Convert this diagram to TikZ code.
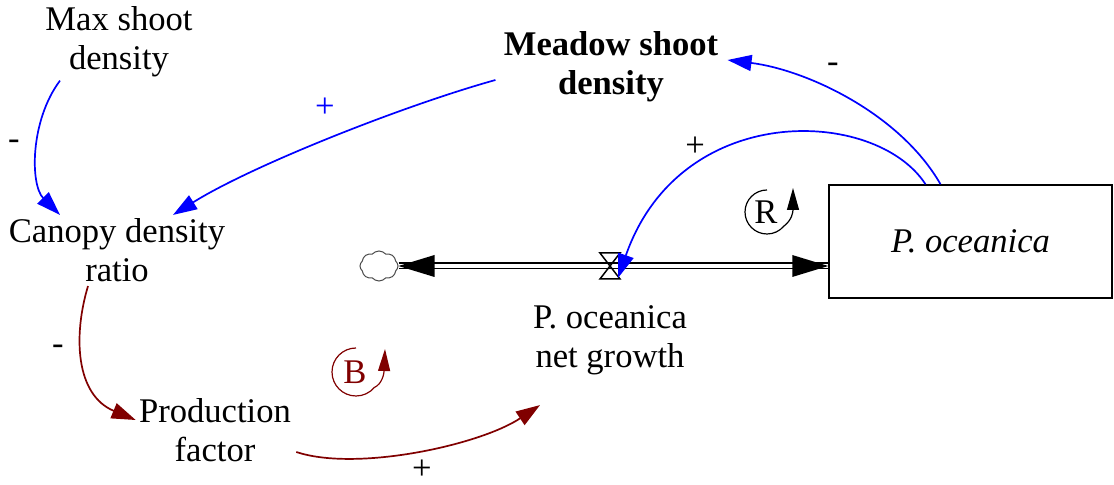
\documentclass[tikz,border=0pt]{standalone}
\usepackage{fontspec}
\setmainfont{Liberation Serif}
\usetikzlibrary{arrows.meta,shapes.symbols,calc}
\definecolor{balred}{RGB}{128,0,0}

\begin{document}
\begin{tikzpicture}[
    x=0.5pt, y=-0.5pt,
    every node/.style={font=\fontsize{17.3}{19.5}\selectfont},
    var/.style={align=center,inner sep=0pt},
    stockbox/.style={draw,line width=0.75pt,minimum width=141.5pt,minimum height=56.5pt,inner sep=0pt},
    link/.style={line width=0.85pt,-{Triangle[length=12pt,width=8pt]}},
    bluelink/.style={link,blue},
    redlink/.style={link,balred},
    pipe/.style={double,double distance=2pt,line width=0.75pt},
    pol/.style={inner sep=0pt},
    loopr/.style={line width=0.6pt,-{Triangle[length=11pt,width=6pt]}}
]
\useasboundingbox (0,0) rectangle (1114,485);

\node[var] (maxd) at (119,42) {Max shoot\\density};
\node[var,font=\fontsize{17.3}{19.5}\selectfont\bfseries] (meadow) at (611,67) {Meadow shoot\\density};
\node[var] (canopy) at (117,250) {Canopy density\\ratio};
\node[var] (prod) at (215,430) {Production\\factor};
\node[var] (netg) at (610,340) {P. oceanica\\net growth};
\node[stockbox] (stock) at (970.5,241.5) {\textit{P. oceanica}};
\node[cloud,draw=gray!60!black,line width=0.5pt,cloud puffs=8,cloud puff arc=100,minimum width=19pt,minimum height=15pt,inner sep=0pt] (sink) at (379,266) {};
\coordinate (valve) at (610,266);

% flow pipe
\draw[pipe] (sink.east) -- (valve -| stock.west);
\fill (sink.east) -- ++(36,-11) -- ++(0,22) -- cycle;
\fill (valve -| stock.west) -- ++(-36,-11) -- ++(0,22) -- cycle;
\draw[line width=0.75pt] ($(valve)+(-10,-13)$) -- ++(20,0) -- ++(-20,26) -- ++(20,0) -- cycle;

% links
\draw[bluelink] ($(maxd.south)+(-59,3)$) .. controls +(-30,40) and +(-30,-30) .. ($(canopy.north)+(-57,-3)$);
\draw[bluelink] ($(meadow.west)+(-8,13)$) .. controls +(-90,25) and +(80,-50) .. ($(canopy.north)+(56,-3)$);
\draw[bluelink] ($(stock.north)+(-30,0)$) .. controls +(-40,-70) and +(80,10) .. ($(meadow.east)+(9,-7)$);
\draw[bluelink] ($(stock.north)+(-45,0)$) .. controls +(-50,-77) and +(62,-178) .. ($(valve)+(8,12)$);
\draw[redlink] ($(canopy.south)+(-29,4)$) .. controls +(-15,50) and +(-60,-25) .. ($(prod.west)+(-3,-10)$);
\draw[redlink] ($(prod.east)+(5,22)$) .. controls +(60,20) and +(-60,40) .. ($(netg.south)+(-70,30)$);

% polarities
\node[pol] (p1) at (14,145) {-};
\node[pol,text=blue] (p2) at (325,108) {+};
\node[pol] (p3) at (833,68) {-};
\node[pol] (p4) at (695,147) {+};
\node[pol] (p5) at (58,350) {-};
\node[pol] (p6) at (422,470) {+};

% loop markers
\node (rl) at (766,212) {R};
\draw[loopr] (767,190) arc[start angle=-90, end angle=-320, radius=22] .. controls (792,220) and (793,212) .. (793,188);
\node[text=balred] (bl) at (355,372) {B};
\draw[loopr,balred] (356,348) arc[start angle=-90, end angle=-320, radius=24] .. controls (382,384) and (384,374) .. (385,349);
\end{tikzpicture}
\end{document}
